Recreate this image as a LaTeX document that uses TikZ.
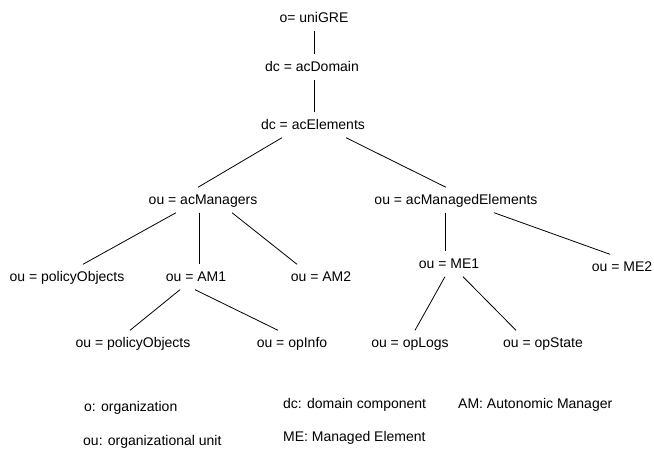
\documentclass[tikz,border=0pt]{standalone}
\usepackage{fontspec}
\setmainfont{Liberation Sans}
\begin{document}
\begin{tikzpicture}[x=1pt,y=-1pt,
	lbl/.style={inner xsep=0pt,inner ysep=7.5pt,text height=10pt,text depth=0pt,font=\fontsize{14}{16}\selectfont},
	key/.style={lbl,anchor=west},
	link/.style={line width=0.8pt}]

\useasboundingbox (0,0) rectangle (654,449);

\node[lbl] (root) at (314,18) {o= uniGRE};
\node[lbl] (domain) at (312,67) {dc = acDomain};
\node[lbl] (elements) at (313,125) {dc = acElements};

\node[lbl] (managers) at (203,200) {ou = acManagers};
\node[lbl] (managed) at (456,200) {ou = acManagedElements};

\node[lbl] (policy) at (67,277) {ou = policyObjects};
\node[lbl] (am1) at (196,277) {ou = AM1};
\node[lbl] (am2) at (321,277) {ou = AM2};
\node[lbl] (me1) at (449,264) {ou = ME1};
\node[lbl] (me2) at (622,267) {ou = ME2};

\node[lbl] (amPolicy) at (133,343) {ou = policyObjects};
\node[lbl] (amInfo) at (292,343) {ou = opInfo};
\node[lbl] (meLogs) at (410,343) {ou = opLogs};
\node[lbl] (meState) at (543,343) {ou = opState};

% legend
\node[key] (oKey) at (84,406) {o: organization};
\node[key] (ouKey) at (83,440) {ou: organizational unit};
\node[key] (dcKey) at (283,403) {dc: domain component};
\node[key] (meKey) at (283,436) {ME: Managed Element};
\node[key] (amKey) at (458,403) {AM: Autonomic Manager};

\foreach \from/\fs/\to/\ts in {root/0/domain/2, domain/2/elements/1,
	elements/-31/managers/-5, elements/33/managed/-10,
	managers/-27/policy/16, managers/-4/am1/3, managers/29/am2/-24,
	am1/-16/amPolicy/-3, am1/-1/amInfo/-14,
	managed/-11/me1/-4, managed/38/me2/-12,
	me1/-4/meLogs/5, me1/14/meState/-27}
	\draw[link] ([xshift=\fs pt]\from.south) -- ([xshift=\ts pt]\to.north);

\end{tikzpicture}
\end{document}
